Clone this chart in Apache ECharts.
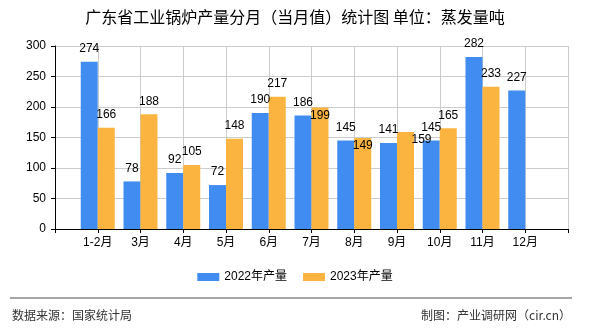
<!DOCTYPE html>
<html>
<head>
<meta charset="utf-8">
<script src="https://cdn.jsdelivr.net/npm/echarts@6/dist/echarts.min.js"></script>
<style>
html,body{margin:0;padding:0;background:#fff;}
#chart{width:590px;height:330px;}
</style>
</head>
<body>
<div id="chart"></div>
<script>
const titleText = '广东省工业锅炉产量分月（当月值）统计图 单位：蒸发量吨';
const categories = ['1-2月','3月','4月','5月','6月','7月','8月','9月','10月','11月','12月'];
const seriesNames = ['2022年产量','2023年产量'];
const values2022 = [274, 78, 92, 72, 190, 186, 145, 141, 145, 282, 227];
const values2023 = [166, 188, 105, 148, 217, 199, 149, 159, 165, 233, null];
const yTicks = [0, 50, 100, 150, 200, 250, 300];
const sourceText = '数据来源：国家统计局';
const creditText = '制图：产业调研网（cir.cn）';

const FONT = '"Liberation Sans", "Noto Sans CJK SC", sans-serif';
const CJK = '"Noto Sans CJK SC", "Liberation Sans", sans-serif';

// label shifts (index into categories) for overlapping labels in the original
const shift2023 = {5: [0, 21], 6: [0, 21], 7: [16, 21]};

const axisCats = [''].concat(categories, ['']);
function pad(arr, shifts) {
  const d = arr.map((v, i) => {
    if (v === null) return null;
    if (shifts && shifts[i]) return {value: v, label: {offset: shifts[i]}};
    return v;
  });
  return [null].concat(d, [null]);
}

const chart = echarts.init(document.getElementById('chart'), null, {renderer: 'canvas'});
chart.setOption({
  animation: false,
  backgroundColor: '#fff',
  color: ['#418CF0', '#FCB441'],
  title: {
    text: titleText,
    left: 'center',
    top: 4,
    textStyle: {fontSize: 16, fontWeight: 'normal', color: '#000', fontFamily: CJK}
  },
  legend: {
    data: seriesNames,
    left: 'center',
    top: 271,
    padding: 0,
    itemWidth: 22,
    itemHeight: 8,
    itemGap: 16,
    icon: 'rect',
    textStyle: {fontSize: 12, color: '#000', fontFamily: FONT}
  },
  grid: {left: 55, right: 22, top: 46, bottom: 101, containLabel: false},
  xAxis: {
    type: 'category',
    data: axisCats,
    boundaryGap: false,
    axisLine: {lineStyle: {color: '#000', width: 1}},
    axisTick: {show: true, length: 4, interval: 0, lineStyle: {color: '#000'}},
    axisLabel: {interval: 0, fontSize: 12, color: '#000', margin: 8, fontFamily: FONT},
    splitLine: {show: true, interval: 0, lineStyle: {color: '#cccccc', width: 1}}
  },
  yAxis: {
    type: 'value',
    min: yTicks[0],
    max: yTicks[yTicks.length - 1],
    interval: yTicks[1] - yTicks[0],
    axisLine: {show: true, lineStyle: {color: '#000', width: 1}},
    axisTick: {show: true, length: 4, lineStyle: {color: '#000'}},
    axisLabel: {fontSize: 12, color: '#000', margin: 9, fontFamily: FONT},
    splitLine: {show: true, lineStyle: {color: '#cccccc', width: 1}}
  },
  series: [
    {
      name: seriesNames[0],
      type: 'bar',
      data: pad(values2022),
      barWidth: 17,
      barGap: '0%',
      label: {show: true, position: 'top', distance: 7, fontSize: 12, color: '#000', fontFamily: FONT}
    },
    {
      name: seriesNames[1],
      type: 'bar',
      data: pad(values2023, shift2023),
      barWidth: 17,
      barGap: '0%',
      label: {show: true, position: 'top', distance: 7, fontSize: 12, color: '#000', fontFamily: FONT}
    }
  ],
  graphic: [
    {type: 'line', shape: {x1: 10, y1: 298, x2: 572, y2: 298}, style: {stroke: '#888', lineWidth: 1.5}},
    {type: 'text', left: 12, top: 309, style: {text: sourceText, fontSize: 12, fill: '#333', fontFamily: CJK}},
    {type: 'text', right: 19, top: 309, style: {text: creditText, fontSize: 12, fill: '#333', fontFamily: CJK}}
  ]
});
</script>
</body>
</html>
